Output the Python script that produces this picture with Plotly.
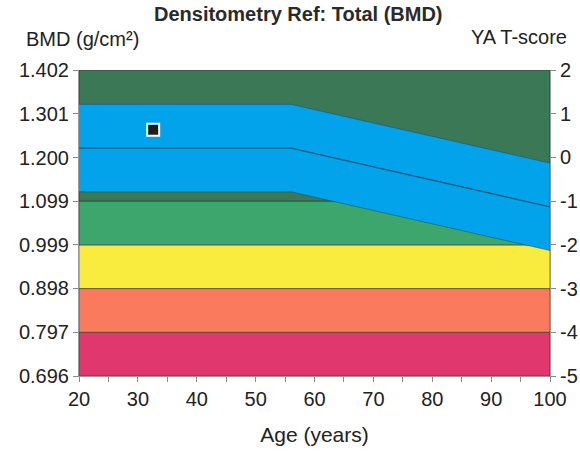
import plotly.graph_objects as go

# ---- data ----
bmd_ticks = [0.696, 0.797, 0.898, 0.999, 1.099, 1.200, 1.301, 1.402]
tscore_ticks = [-5, -4, -3, -2, -1, 0, 1, 2]
age_ticks = [20, 30, 40, 50, 60, 70, 80, 90, 100]

# T-score band edges (bottom -> top)
band_lo = [-5, -4, -3, -2, -1]
band_hi = [-4, -3, -2, -1, 2]

# age-matched reference curve (in T-score units), +/- 1 SD
ref_age = [20, 56, 100]
ref_mean = [0.215, 0.215, -1.13]
ref_sd = 1.0

# patient
pt_age = [32.6]
pt_bmd = [1.264]

# ---- styles ----
band_colors = ["#e0386e", "#fa7a5e", "#faec3e", "#3ca66c", "#3a7856"]
blue = "#03a3ec"
font = "Liberation Sans, Arial, sans-serif"

W, H = 580, 451
L, T, R, B = 79, 70, 30, 75

fig = go.Figure()
xmin, xmax = age_ticks[0], age_ticks[-1]
for lo, hi, c in zip(band_lo, band_hi, band_colors):
    fig.add_trace(go.Scatter(
        x=[xmin, xmax, xmax, xmin, xmin], y=[lo, lo, hi, hi, lo],
        fill="toself", fillcolor=c, mode="lines",
        line=dict(color="rgba(40,40,40,0.7)", width=0.8),
        yaxis="y", hoverinfo="skip", showlegend=False))

upper = [m + ref_sd for m in ref_mean]
lower = [m - ref_sd for m in ref_mean]
fig.add_trace(go.Scatter(
    x=ref_age + ref_age[::-1], y=upper + lower[::-1],
    fill="toself", fillcolor=blue, mode="lines",
    line=dict(color="rgba(30,70,90,0.6)", width=0.8),
    yaxis="y", hoverinfo="skip", showlegend=False))
fig.add_trace(go.Scatter(
    x=ref_age, y=ref_mean, mode="lines",
    line=dict(color="#1a5b7a", width=1.3),
    yaxis="y", hoverinfo="skip", showlegend=False))

fig.add_trace(go.Scatter(
    x=pt_age, y=pt_bmd, mode="markers",
    marker=dict(symbol="square", size=12, color="#1e1e1e",
                line=dict(color="white", width=2)),
    yaxis="y2", hoverinfo="skip", showlegend=False))

axis_common = dict(ticks="outside", ticklen=5, tickcolor="#888",
                   showgrid=False, zeroline=False, showline=True,
                   linecolor="#999", linewidth=1, automargin=False)

fig.update_layout(
    width=W, height=H,
    margin=dict(l=L, r=R, t=T, b=B),
    paper_bgcolor="white", plot_bgcolor="white",
    font=dict(family=font, size=20, color="#222"),
    xaxis=dict(range=[xmin, xmax], tickvals=age_ticks,
               minor=dict(dtick=5, ticks="outside", ticklen=5, tickcolor="#888"),
               title=dict(text="Age (years)", font=dict(size=21), standoff=18),
               **axis_common),
    # T-score axis (right side, bands)
    yaxis=dict(range=[tscore_ticks[0], tscore_ticks[-1]], tickvals=tscore_ticks,
               ticktext=[str(v) for v in tscore_ticks], side="right",
               **axis_common),
    # BMD axis (left side)
    yaxis2=dict(range=[bmd_ticks[0], bmd_ticks[-1]], tickvals=bmd_ticks,
                ticktext=[f"{v:.3f}" for v in bmd_ticks],
                overlaying="y", side="left", **axis_common),
)

pw, ph = W - L - R, H - T - B
def px(xp): return (xp - L) / pw
def py(yp): return (H - B - yp) / ph

fig.add_annotation(text="<b>Densitometry Ref: Total (BMD)</b>", x=px(298), y=py(14),
                   xref="paper", yref="paper", showarrow=False,
                   font=dict(size=20, color="#2a2a2a"), xanchor="center", yanchor="middle")
fig.add_annotation(text="BMD (g/cm²)", x=px(24), y=py(39),
                   xref="paper", yref="paper", showarrow=False,
                   font=dict(size=20), xanchor="left", yanchor="middle")
fig.add_annotation(text="YA T-score", x=px(569), y=py(37),
                   xref="paper", yref="paper", showarrow=False,
                   font=dict(size=20), xanchor="right", yanchor="middle")

fig.write_html("out.html",
               config={"displayModeBar": False, "staticPlot": True},
               post_script="document.body.style.margin='0';"
                           "document.body.style.overflow='hidden';")
